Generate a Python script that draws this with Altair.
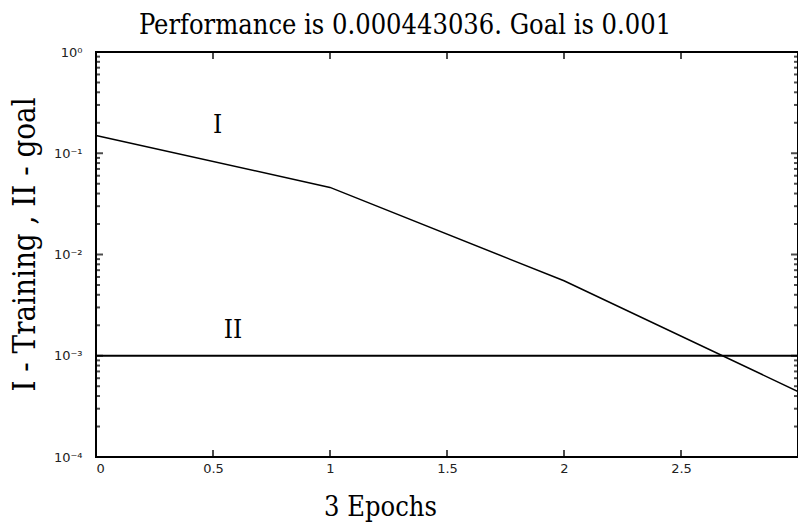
import altair as alt
import pandas as pd

# data
epochs = [0, 1, 2, 3]
training = [0.150, 0.046, 0.0055, 0.000443036]
goal = 0.001
x_ticks = [0, 0.5, 1, 1.5, 2, 2.5, 3]
x_labels = ["0", "0.5", "1", "1.5", "2", "2.5", ""]
y_decades = [1e-4, 1e-3, 1e-2, 1e-1, 1e0]
y_labels = ["10⁻⁴", "10⁻³", "10⁻²", "10⁻¹", "10⁰"]
curve_labels = ["I", "II"]
curve_label_x = [0.52, 0.585]
curve_label_y = [0.19, 0.0018]

train_df = pd.DataFrame({"epoch": epochs, "perf": training})
goal_df = pd.DataFrame({"epoch": [epochs[0], epochs[-1]], "perf": [goal, goal]})
lab_df = pd.DataFrame({"epoch": curve_label_x, "perf": curve_label_y, "txt": curve_labels})
frame_df = pd.DataFrame({"epoch": [x_ticks[0]], "epoch2": [x_ticks[-1]],
                         "perf": [y_decades[0]], "perf2": [y_decades[-1]]})

minor = [d * m for d in y_decades[:-1] for m in range(2, 10)]
ymin_df = pd.DataFrame({"perf": minor, "epoch": 0})
ymin_r_df = pd.DataFrame({"perf": minor, "epoch": 3})
ymaj_df = pd.DataFrame({"perf": y_decades, "epoch": 0})
ymaj_r_df = pd.DataFrame({"perf": y_decades, "epoch": 3})
xt_b_df = pd.DataFrame({"epoch": x_ticks, "perf": 1e-4})
xt_t_df = pd.DataFrame({"epoch": x_ticks, "perf": 1e0})

xscale = alt.Scale(domain=[0, 3], nice=False, zero=False)
yscale = alt.Scale(type="log", domain=[1e-4, 1], nice=False)

label_expr = " : ".join(
    [f"datum.value > {v*0.5} && datum.value < {v*2} ? '{l}'" for v, l in zip(y_decades, y_labels)]
) + " : ''"
xlabel_expr = " : ".join(
    [f"abs(datum.value - {v}) < 0.01 ? '{l}'" for v, l in zip(x_ticks, x_labels)]
) + " : ''"

SERIF = "DejaVu Serif Condensed, DejaVu Serif, serif"

x_axis = alt.Axis(values=x_ticks, labelExpr=xlabel_expr, ticks=False, domain=False, grid=False, zindex=0,
                  title="3 Epochs", titleFont=SERIF, titleFontSize=27,
                  titleFontWeight="normal", titleX=284, titleY=58, titleBaseline="alphabetic",
                  titleAlign="center", titleColor="black",
                  labelPadding=5, labelFont="DejaVu Sans", labelFontSize=13, labelColor="#222")
y_axis = alt.Axis(values=y_decades, labelExpr=label_expr, ticks=False, domain=False, grid=False, zindex=0,
                  title="I - Training , II - goal", titleFont=SERIF,
                  titleFontSize=31, titleFontWeight="normal", titleX=-71, titleY=192,
                  titleBaseline="middle", titleAlign="center", titleColor="black",
                  labelPadding=14, labelFont="DejaVu Sans", labelFontSize=13, labelColor="#222")
X = alt.X("epoch:Q", scale=xscale, axis=x_axis)
Y = alt.Y("perf:Q", scale=yscale, axis=y_axis)

train = alt.Chart(train_df).mark_line(color="black", strokeWidth=1.5).encode(x=X, y=Y)
frame = alt.Chart(frame_df).mark_rect(fill=None, stroke="black", strokeWidth=2).encode(
    x=X, x2="epoch2:Q", y=Y, y2="perf2:Q")
goal_line = alt.Chart(goal_df).mark_line(color="black", strokeWidth=1.8).encode(x=X, y=Y)
labels = alt.Chart(lab_df).mark_text(font=SERIF, fontSize=26, color="black").encode(
    x=X, y=Y, text="txt:N")

def tick_layer(df, orient, size, xo=0, yo=0):
    return alt.Chart(df).mark_tick(orient=orient, size=size, thickness=2, color="black",
                                   xOffset=xo, yOffset=yo).encode(x=X, y=Y)

layers = [
    train, frame, goal_line, labels,
    tick_layer(ymin_df, "horizontal", 4, xo=2),
    tick_layer(ymin_r_df, "horizontal", 4, xo=-2),
    tick_layer(ymaj_df, "horizontal", 7, xo=3.5),
    tick_layer(ymaj_r_df, "horizontal", 7, xo=-3.5),
    tick_layer(xt_b_df, "vertical", 7, yo=-3.5),
    tick_layer(xt_t_df, "vertical", 7, yo=3.5),
]

chart = alt.layer(*layers).properties(
    width=702, height=405,
    title=alt.TitleParams("Performance is 0.000443036. Goal is 0.001", font=SERIF,
                          fontSize=27, fontWeight="normal", color="black", anchor="middle", dx=-42, offset=6),
    autosize=alt.AutoSizeParams(type="none"),
    padding={"left": 96, "top": 52, "right": 0, "bottom": 69},
    background="white",
    view=alt.ViewBackground(stroke="black", strokeWidth=2),
).configure_view(stroke="black", strokeWidth=2).configure_axis(domain=False, ticks=False, grid=False)

chart.save("out.html", embed_options={"renderer": "svg", "actions": False})
